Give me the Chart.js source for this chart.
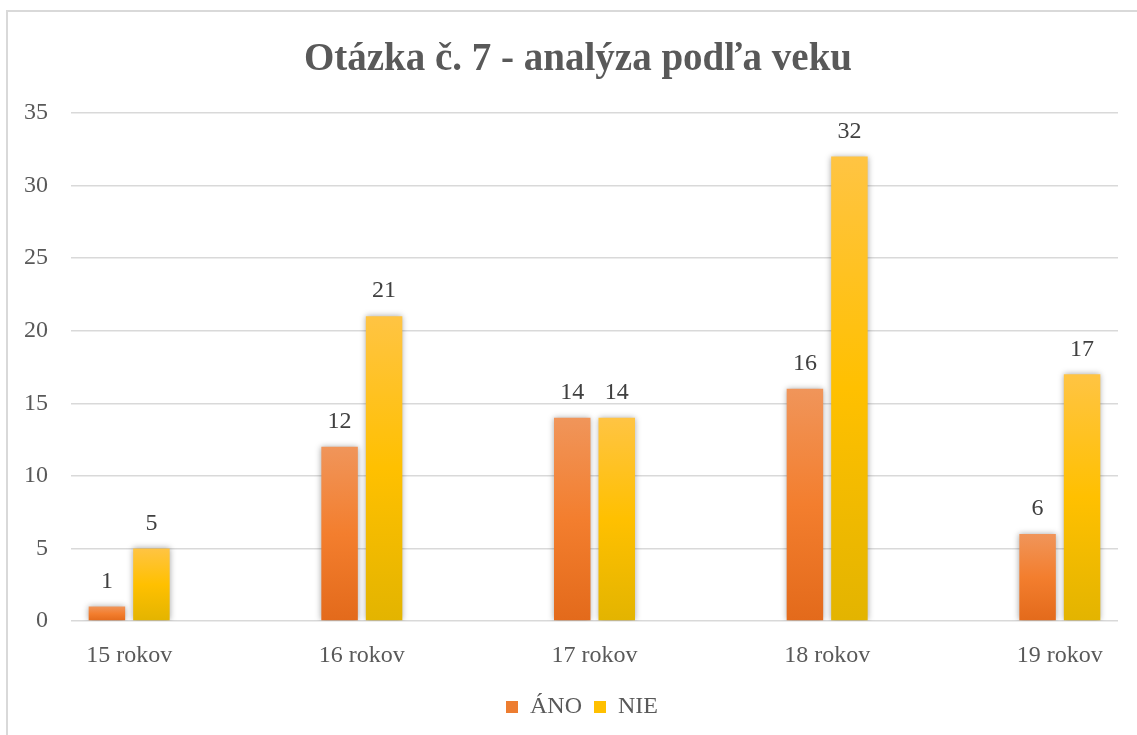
<!DOCTYPE html>
<html lang="sk">
<head>
    <meta charset="UTF-8">
    <meta name="viewport" content="width=device-width, initial-scale=1.0">
    <script src="https://cdn.jsdelivr.net/npm/chart.js@4.4.1/dist/chart.umd.min.js"></script>
    <style>
        body{
            margin: 0;
            background: #fff;
        }
        .frame{
            position: absolute;
            left: 6px;
            top: 10px;
            width: 1200px;
            height: 800px;
            border: 2px solid #d9d9d9;
        }
        .wrap{
            position: absolute;
            left: 0;
            top: 0;
            width: 1137px;
            height: 735px;
        }
    </style>
    <title>Otázka č. 7</title>
</head>
<body>
    <div class="frame"></div>
    <div class="wrap">
        <canvas id="canvas"></canvas>
    </div>

<script>
    // data
    const categories = ['15 rokov', '16 rokov', '17 rokov', '18 rokov', '19 rokov'];
    const ano = [1, 12, 14, 16, 6];
    const nie = [5, 21, 14, 32, 17];
    const yTicks = [0, 5, 10, 15, 20, 25, 30, 35];

    const FONT = "'Liberation Serif', 'Times New Roman', serif";
    const GREY = '#595959';

    // gradient for each bar, from its top to the zero line
    function barGradient(stops) {
        return function(ctx) {
            const chart = ctx.chart;
            const y = chart.scales.y;
            if (!y || !ctx.parsed) return stops[1];
            const top = y.getPixelForValue(ctx.parsed.y);
            const bottom = y.getPixelForValue(0);
            if (!isFinite(top) || top === bottom) return stops[1];
            const g = chart.ctx.createLinearGradient(0, top, 0, bottom);
            g.addColorStop(0, stops[0]);
            g.addColorStop(0.5, stops[1]);
            g.addColorStop(1, stops[2]);
            return g;
        };
    }

    const shadowPlugin = {
        id: 'barShadow',
        beforeDatasetsDraw(chart) {
            const c = chart.ctx;
            c.save();
            c.shadowColor = 'rgba(0,0,0,0.35)';
            c.shadowBlur = 6;
        },
        afterDatasetsDraw(chart) {
            chart.ctx.restore();
        }
    };

    // in the original the title and legend sit a bit right of the canvas centre
    const nudgeBoxes = {
        id: 'nudgeBoxes',
        afterLayout(chart) {
            if (chart.titleBlock) {
                chart.titleBlock.left += 19;
                chart.titleBlock.right += 19;
            }
            if (chart.legend) {
                chart.legend.left += 23;
                chart.legend.right += 23;
            }
        }
    };

    const valueLabels = {
        id: 'valueLabels',
        afterDraw(chart) {
            const c = chart.ctx;
            c.save();
            c.font = '24px ' + FONT;
            c.fillStyle = '#404040';
            c.textAlign = 'center';
            c.textBaseline = 'middle';
            chart.data.datasets.forEach(function(ds, i) {
                chart.getDatasetMeta(i).data.forEach(function(bar, j) {
                    c.fillText(ds.data[j].y, bar.x, bar.y - 25);
                });
            });
            c.restore();
        }
    };

    const ctx = document.getElementById('canvas').getContext('2d');
    const myChart = new Chart(ctx, {
        type: 'bar',
        data: {
            datasets: [{
                label: 'ÁNO',
                data: ano.map(function(v, i) { return {x: i, y: v}; }),
                backgroundColor: barGradient(['#f0955a', '#f37e2e', '#e36a1b'])
            }, {
                label: 'NIE',
                data: nie.map(function(v, i) { return {x: i, y: v}; }),
                backgroundColor: barGradient(['#ffc443', '#ffc000', '#e3b400'])
            }]
        },
        options: {
            responsive: true,
            maintainAspectRatio: false,
            animation: false,
            categoryPercentage: 0.3825,
            barPercentage: 0.82,
            layout: {
                padding: {left: 0, right: 19, top: 0, bottom: 6}
            },
            plugins: {
                title: {
                    display: true,
                    text: 'Otázka č. 7 - analýza podľa veku',
                    color: GREY,
                    font: {family: FONT, size: 39, weight: 'bold'},
                    padding: {top: 36.6, bottom: 29.6}
                },
                legend: {
                    position: 'bottom',
                    labels: {
                        color: GREY,
                        font: {family: FONT, size: 24},
                        boxWidth: 12,
                        boxHeight: 12,
                        padding: 12,
                        generateLabels: function(chart) {
                            const solid = ['#ed7d31', '#ffc000'];
                            return chart.data.datasets.map(function(ds, i) {
                                return {
                                    text: ds.label,
                                    fillStyle: solid[i],
                                    strokeStyle: solid[i],
                                    lineWidth: 0,
                                    fontColor: GREY,
                                    datasetIndex: i
                                };
                            });
                        }
                    }
                },
                tooltip: {enabled: false}
            },
            scales: {
                x: {
                    type: 'linear',
                    min: -0.25,
                    max: 4.25,
                    offset: false,
                    grid: {display: false, offset: false},
                    border: {display: false},
                    afterBuildTicks: function(scale) {
                        scale.ticks = categories.map(function(c, i) { return {value: i}; });
                    },
                    afterFit: function(scale) {
                        scale.height = 62;
                    },
                    ticks: {
                        autoSkip: false,
                        maxRotation: 0,
                        padding: 12,
                        color: GREY,
                        font: {family: FONT, size: 24},
                        callback: function(v) { return categories[v]; }
                    }
                },
                y: {
                    min: 0,
                    max: 35,
                    afterBuildTicks: function(scale) {
                        scale.ticks = yTicks.map(function(v) { return {value: v}; });
                    },
                    afterFit: function(scale) {
                        scale.width = 71;
                    },
                    grid: {
                        color: '#d9d9d9',
                        lineWidth: 1.5,
                        drawTicks: false
                    },
                    border: {display: false},
                    ticks: {
                        padding: 23,
                        color: GREY,
                        font: {family: FONT, size: 24}
                    }
                }
            }
        },
        plugins: [shadowPlugin, nudgeBoxes, valueLabels]
    });
</script>
</body>
</html>
